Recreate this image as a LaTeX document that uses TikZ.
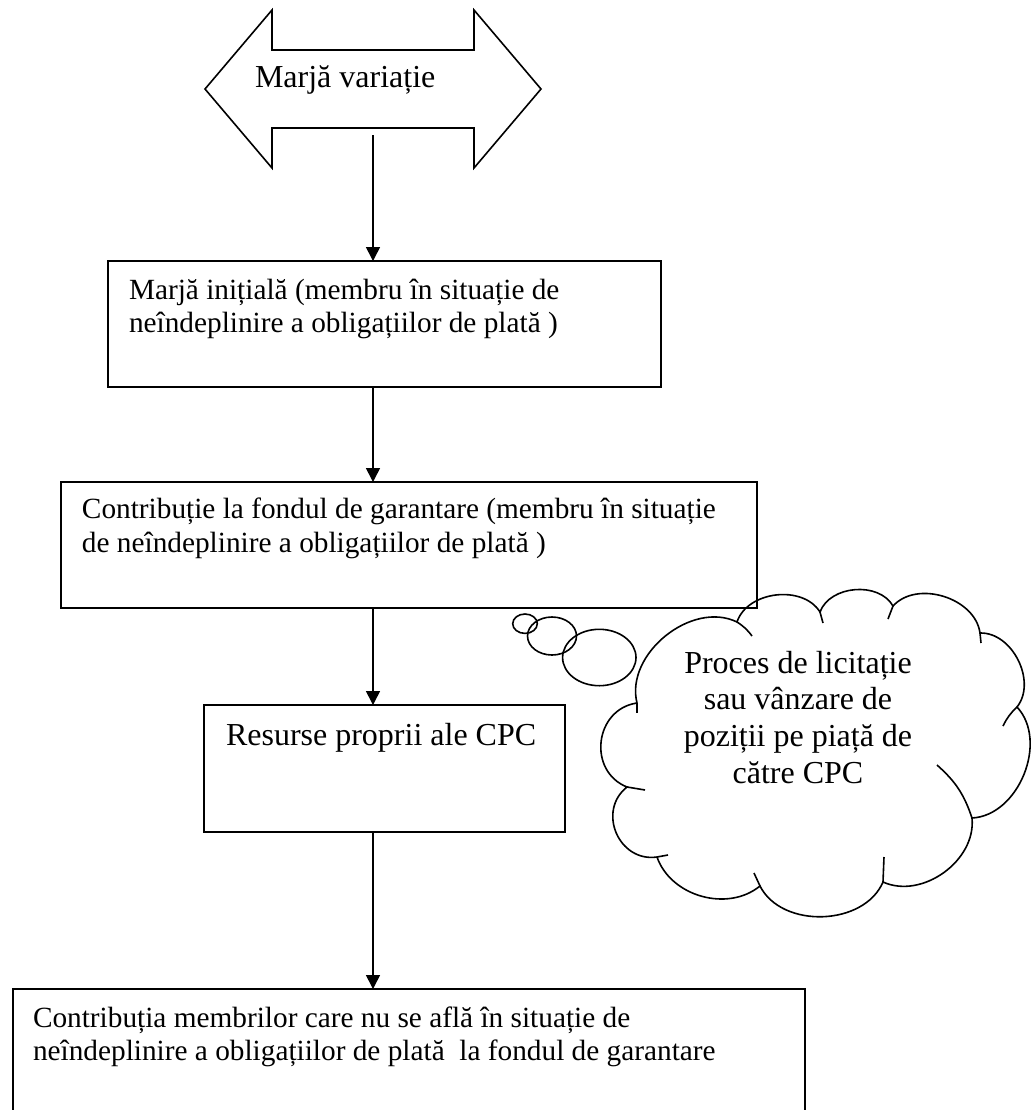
\documentclass[tikz,border=0pt]{standalone}
\usepackage{fontspec}
\setmainfont{Liberation Serif}
\usetikzlibrary{arrows.meta,shapes.geometric}
\begin{document}
\begin{tikzpicture}[x=0.5pt,y=-0.5pt,
  box/.style={draw,line width=1pt,rectangle,inner sep=0pt,outer sep=0pt},
  txt/.style={inner sep=0pt,outer sep=0pt,anchor=base west,font=\fontsize{14.65}{16.6}\selectfont},
  bigtxt/.style={inner sep=0pt,outer sep=0pt,anchor=base west,font=\fontsize{16}{18}\selectfont},
  cltxt/.style={inner sep=0pt,outer sep=0pt,anchor=base,font=\fontsize{16}{18.35}\selectfont},
  conn/.style={line width=0.8pt,-{Triangle[width=7pt,length=7pt]}},
  cl/.style={line width=0.8pt},
  bub/.style={draw,ellipse,line width=0.8pt,inner sep=0pt,outer sep=0pt}]
\useasboundingbox (0,0) rectangle (1033,1110);
\clip (0,0) rectangle (1033,1110);

% double arrow
\draw[line width=0.8pt] (205,89) -- (272,10) -- (272,50) -- (474,50) -- (474,10) -- (541,89)
  -- (474,168) -- (474,128) -- (272,128) -- (272,168) -- cycle;
\node[bigtxt] (tv) at (255,87) {Marjă variație};
\coordinate (va) at (373,135);

% boxes
\node[box,minimum width=276.5pt,minimum height=63pt] (b1) at (384.5,324) {};
\node[box,minimum width=348pt,minimum height=63pt] (b2) at (409,545) {};
\node[box,minimum width=180.5pt,minimum height=63.5pt] (b3) at (384.5,768.5) {};
\node[box,minimum width=396pt,minimum height=75pt] (b4) at (409,1064) {};

\node[txt] (t1) at (129,299) {\parbox[t]{300pt}{Marjă inițială (membru în situație de\\neîndeplinire a obligațiilor de plată )}};
\node[txt] (t2) at (82,518) {\parbox[t]{345pt}{Contribuție la fondul de garantare (membru în situație\\[0.5pt]de neîndeplinire a obligațiilor de plată )}};
\node[bigtxt] (t3) at (226,745) {Resurse proprii ale CPC};
\node[txt] (t4) at (33,1027) {\parbox[t]{390pt}{Contribuția membrilor care nu se află în situație de\\neîndeplinire a obligațiilor de plată~ la fondul de garantare}};

% connectors
\draw[conn] (va) -- (va |- b1.north);
\draw[conn] (va |- b1.south) -- (va |- b2.north);
\draw[conn] (va |- b2.south) -- (va |- b3.north);
\draw[conn] (va |- b3.south) -- (va |- b4.north);

% thought bubbles
\node[bub,minimum width=12.3pt,minimum height=9.7pt] (s1) at (525,623.7) {};
\node[bub,minimum width=24.5pt,minimum height=19pt] (s2) at (552,636) {};
\node[bub,minimum width=36.7pt,minimum height=28.2pt] (s3) at (599.3,657.5) {};

% cloud
\draw[cl] (637,703) to[bend left=65] (737,622)
  to[bend left=65] (820,612)
  to[bend left=65] (893,606)
  to[bend left=65] (980,633)
  to[bend left=65] (1017,707)
  to[bend left=65] (972,818)
  to[bend left=60] (883,882)
  to[bend left=65] (760,886)
  to[bend left=55] (657,857)
  to[bend left=75,looseness=1.3] (627,787)
  to[bend left=75,looseness=1.3] (637,703);
% inner ticks
\draw[cl] (737,622) to[bend left=10] (752,636);
\draw[cl] (820,612) -- (823,623);
\draw[cl] (893,606) -- (888,619);
\draw[cl] (980,633) -- (981,643);
\draw[cl] (1017,707) to[bend right=10] (1003,726);
\draw[cl] (972,818) to[bend right=15] (937,765);
\draw[cl] (883,882) -- (884,857);
\draw[cl] (760,886) -- (754,873);
\draw[cl] (657,857) -- (668,855);
\draw[cl] (627,787) -- (645,790);
\draw[cl] (637,703) -- (637,713);

\node[cltxt] (ct) at (798,673) {\parbox[t]{170pt}{\centering Proces de licitație\\sau vânzare de\\poziții pe piață de\\către CPC}};
\end{tikzpicture}
\end{document}
